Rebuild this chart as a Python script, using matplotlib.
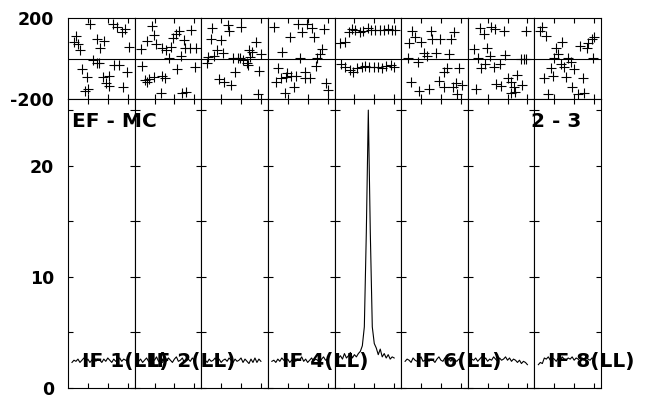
import matplotlib.pyplot as plt

plt.rcParams['font.family'] = ['DejaVu Sans']
plt.rcParams['font.weight'] = 'bold'

#### labels
if_labels = ['IF 1(LL)', 'IF 2(LL)', None, 'IF 4(LL)', None, 'IF 6(LL)', None, 'IF 8(LL)']
left_label = 'EF - MC'
right_label = '2 - 3'

#### phase (deg) vs channel, per IF
if1_ph_ch = [11.1, 22.4, 24.5, 27.1, 28.8, 4.0, 3.2, 4.9, 6.0, 14.4, 18.3, 16.2, 30.5, 12.4,
             14.4, 15.4, 23.3, 25.5, 7.0, 9.4, 17.4, 20.8, 29.5, 19.1, 20.4, 27.5, 9.9, 8.7]
if1_ph = [169, 169, 157, 133, 146, 113, 83, 70, 42, 96, 86, 50, 55, -7,
          -24, -24, -32, -32, -52, -90, -93, -85, -68, -123, -134, -139, -151, -160]

if2_ph_ch = [8.5, 9.7, 28.1, 22.3, 20.6, 19.3, 6.0, 10.6, 24.8, 13.6, 15.6, 18.1, 25.3, 27.8, 30.7,
             3.4, 23.1, 17.3, 3.9, 21.4, 30.3, 13.6, 15.2, 9.7, 7.2, 5.2, 6.4, 13.1, 24.0, 26.0]
if2_ph = [162, 116, 141, 136, 119, 103, 86, 70, 91, 54, 42, 58, 50, 50, 50,
          45, 14, 1, -35, -52, -40, -85, -98, -93, -101, -106, -114, -172, -172, -167]

if3_ph_ch = [5.5, 13.2, 13.9, 19.9, 4.9, 9.9, 27.3, 7.7, 11.1, 6.5, 3.5, 24.0, 25.3, 24.5,
             30.0, 16.1, 18.3, 19.4, 21.1, 22.8, 23.6, 2.7, 16.9, 29.0, 8.9, 11.6, 14.9, 28.3]
if3_ph = [149, 165, 136, 157, 96, 91, 83, 42, 26, 14, 9, 42, 34, 9,
          21, 4, 1, 1, -7, -24, -32, -24, -68, -62, -101, -114, -131, -174]

if4_ph_ch = [3.0, 15.2, 19.8, 22.3, 28.1, 17.3, 23.1, 10.9, 27.3, 7.2, 26.0, 24.8, 16.4, 24.0,
             5.0, 9.7, 11.4, 13.9, 18.9, 18.6, 21.4, 6.4, 4.2, 8.9, 29.3, 30.3, 13.1, 8.5]
if4_ph = [157, 169, 169, 149, 146, 129, 108, 108, 47, 30, 21, 4, 1, -35,
          -49, -73, -85, -86, -68, -98, -98, -98, -114, -90, -123, -156, -139, -172]

if5_ph_ch = [2.7, 5.2, 7.2, 8.9, 10.2, 12.7, 14.4, 16.9, 18.6, 20.6, 22.8, 25.0, 27.0, 29.0, 30.3,
             3.5, 5.5, 7.7, 9.4, 11.1, 13.6, 15.2, 17.3, 19.9, 21.9, 24.0, 26.1, 28.3, 30.0]
if5_ph = [75, 83, 129, 146, 141, 129, 136, 149, 141, 141, 141, 141, 146, 141, 141,
          -29, -40, -57, -65, -49, -40, -35, -40, -40, -40, -45, -35, -32, -40]

if6_ph_ch = [5.5, 15.2, 26.5, 7.2, 4.2, 10.2, 15.6, 19.3, 25.3, 3.4, 11.4, 13.1, 17.3, 24.0,
             8.5, 23.1, 21.4, 29.3, 18.9, 27.6, 26.0, 30.7, 28.1, 5.2, 9.2, 14.2, 21.4]
if6_ph = [136, 136, 133, 108, 75, 80, 96, 96, 96, 4, 26, 14, 26, 21,
          -16, -49, -65, -45, -111, -123, -139, -131, -177, -114, -160, -151, -139]

if7_ph_ch = [6.0, 11.9, 13.9, 18.3, 8.2, 29.5, 3.2, 9.9, 5.2, 11.1, 18.9, 26.6, 28.3, 29.5,
             6.9, 8.9, 13.2, 16.1, 20.3, 25.0, 21.9, 14.4, 16.6, 23.3, 27.3, 21.9, 24.0, 3.9]
if7_ph = [152, 157, 146, 136, 119, 136, 45, 54, 4, 14, 17, -2, -2, -2,
          -45, -29, -40, -29, -98, -81, -114, -128, -134, -139, -131, -172, -167, -151]

if8_ph_ch = [3.7, 3.0, 5.9, 13.7, 10.9, 11.7, 23.1, 26.5, 27.1, 28.8, 29.8, 9.7, 16.8, 29.3,
             13.4, 15.1, 18.4, 8.4, 9.2, 4.7, 15.9, 20.1, 24.3, 18.8, 6.7, 21.8, 25.1]
if8_ph = [157, 136, 113, 83, 50, 21, 63, 54, 75, 96, 108, 4, 1, 1,
          -29, -40, -16, -49, -85, -95, -90, -52, -95, -139, -177, -177, -172]

#### amplitude vs channel, per IF
amp_ch = [2, 3, 4, 5, 6, 7, 8, 9, 10, 11, 12, 13, 14, 15, 16,
          17, 18, 19, 20, 21, 22, 23, 24, 25, 26, 27, 28, 29, 30]
if1_amp = [2.3, 2.5, 2.4, 2.6, 2.3, 2.5, 2.7, 2.4, 2.6, 2.3, 2.5, 2.8, 2.4, 2.6, 2.5,
           2.3, 2.6, 2.4, 2.7, 2.5, 2.3, 2.6, 2.4, 2.5, 2.7, 2.4, 2.6, 2.5, 2.4]
if2_amp = [2.4, 2.6, 2.3, 2.5, 2.7, 2.4, 2.3, 2.6, 2.5, 2.8, 2.4, 2.5, 2.3, 2.6, 2.4,
           2.7, 2.5, 2.3, 2.6, 2.8, 2.4, 2.5, 2.7, 2.3, 2.5, 2.6, 2.4, 2.7, 2.5]
if3_amp = [2.5, 2.3, 2.6, 2.4, 2.5, 2.7, 2.4, 2.6, 2.3, 2.5, 2.6, 2.4, 2.7, 2.5, 2.3,
           2.6, 2.4, 2.5, 2.7, 2.3, 2.6, 2.4, 2.2, 2.6, 2.3, 2.7, 2.3, 2.6, 2.4]
if4_amp = [2.4, 2.5, 2.3, 2.6, 2.4, 2.7, 2.5, 2.4, 2.6, 2.3, 2.5, 2.7, 2.4, 2.6, 2.5,
           2.8, 2.4, 2.6, 2.3, 2.5, 2.7, 2.4, 2.6, 2.5, 2.3, 2.6, 2.8, 2.5, 2.6]
if5_amp = [2.7, 2.9, 2.6, 3.1, 2.7, 2.9, 3.2, 2.7, 3.0, 2.8, 3.1, 3.3, 3.8, 5.5, 14.0,
           25.0, 14.0, 5.5, 4.0, 3.6, 3.0, 3.5, 2.8, 3.1, 2.7, 3.0, 2.6, 2.8, 2.7]
if6_amp = [2.4, 2.6, 2.5, 2.3, 2.7, 2.5, 2.4, 2.6, 2.8, 2.4, 2.5, 2.7, 2.4, 2.6, 2.5,
           2.3, 2.6, 2.8, 2.5, 2.4, 2.7, 2.5, 2.6, 2.4, 2.7, 2.5, 2.4, 2.6, 2.5]
if7_amp = [2.6, 2.5, 2.7, 2.4, 2.6, 2.8, 2.5, 2.7, 2.4, 2.6, 2.5, 2.8, 2.6, 2.4, 2.7,
           2.5, 2.6, 2.8, 2.5, 2.7, 2.4, 2.6, 2.5, 2.3, 2.5, 2.2, 2.4, 2.3, 2.1]
if8_amp = [2.1, 2.3, 2.2, 2.7, 2.6, 2.8, 2.5, 2.7, 2.6, 2.4, 2.7, 2.5, 2.8, 2.6, 2.5,
           2.7, 2.6, 2.8, 2.5, 2.7, 2.6, 2.4, 2.7, 2.5, 2.8, 2.6, 2.5, 2.7, 2.6]

phase_ch = [if1_ph_ch, if2_ph_ch, if3_ph_ch, if4_ph_ch, if5_ph_ch, if6_ph_ch, if7_ph_ch, if8_ph_ch]
phase = [if1_ph, if2_ph, if3_ph, if4_ph, if5_ph, if6_ph, if7_ph, if8_ph]
amps = [if1_amp, if2_amp, if3_amp, if4_amp, if5_amp, if6_amp, if7_amp, if8_amp]

############################

W, H = 645., 395.
x0 = 68.; x1 = 601.
pw = (x1 - x0) / 8.
ph_top = 18.; ph_bot = 99.; amp_bot = 388.

fig = plt.figure(figsize=(6.45, 3.95), dpi=100)

for i in range(8):
    xl = (x0 + i * pw) / W

    #### phase panel
    axp = fig.add_axes([xl, 1 - ph_bot / H, pw / W, (ph_bot - ph_top) / H])
    axp.plot(phase_ch[i], phase[i], '+', color='k', ms=6.5, mew=0.8)
    axp.axhline(0, color='k', lw=0.8)
    axp.set_xlim(0, 33.5)
    axp.set_ylim(-200, 200)
    axp.set_xticks([10, 20, 30])
    axp.set_xticklabels([])
    axp.set_yticks([-200, 200])
    if i == 0:
        axp.set_yticklabels(['-200', '200'])
    else:
        axp.set_yticklabels([])
    axp.tick_params(axis='x', direction='in', top=True, bottom=True, length=3.5, width=0.8)
    axp.tick_params(axis='y', length=0, pad=10, labelsize=12.5)

    #### amplitude panel
    axa = fig.add_axes([xl, 1 - amp_bot / H, pw / W, (amp_bot - ph_bot) / H])
    axa.plot(amp_ch, amps[i], '-', color='k', lw=0.8)
    axa.set_xlim(0, 33.5)
    axa.set_ylim(0, 26)
    axa.set_xticks([10, 20, 30])
    axa.set_xticklabels([])
    axa.set_yticks([0, 5, 10, 15, 20, 25])
    if i == 0:
        axa.set_yticklabels(['0', '', '10', '', '20', ''])
    else:
        axa.set_yticklabels([])
    axa.tick_params(axis='x', direction='in', top=True, bottom=True, length=3.5, width=0.8)
    axa.tick_params(axis='y', direction='in', left=True, right=True, length=3.5, width=0.8,
                    pad=10, labelsize=12.5)

    for ax in (axp, axa):
        for s in ax.spines.values():
            s.set_linewidth(0.8)

    if if_labels[i]:
        fig.text(xl + 14. / W, 1 - 367. / H, if_labels[i], fontsize=14.5,
                 fontweight='bold', va='baseline', ha='left')

fig.text(72. / W, 1 - 127. / H, left_label, fontsize=14.5, fontweight='bold', va='baseline')
fig.text(581. / W, 1 - 127. / H, right_label, fontsize=14.5, fontweight='bold',
         va='baseline', ha='right')

plt.savefig('out.png', dpi=100)
